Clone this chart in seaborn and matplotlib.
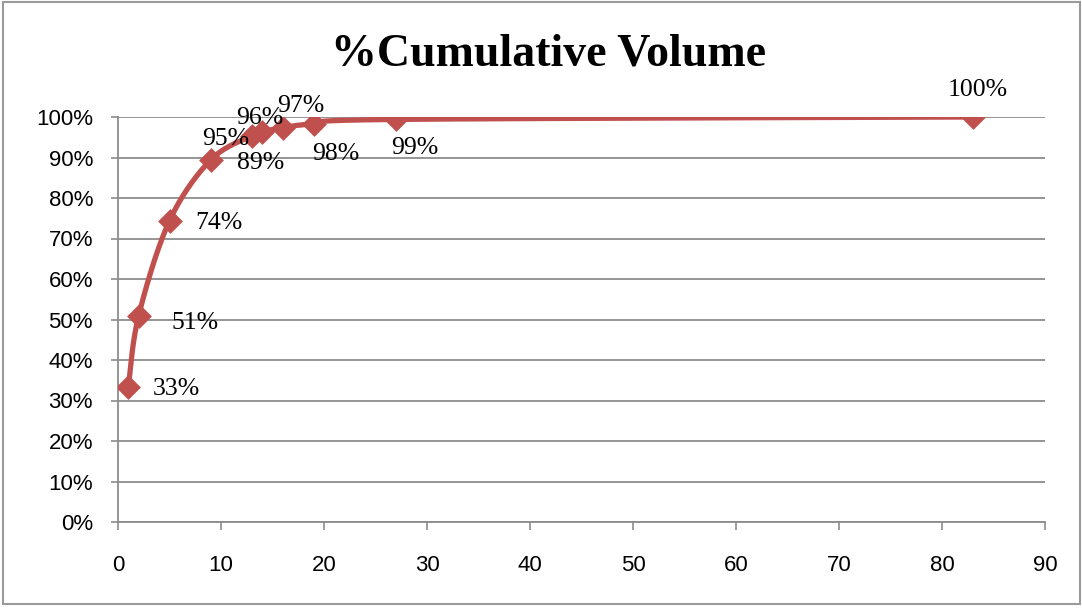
import numpy as np
import pandas as pd
import matplotlib
matplotlib.use("Agg")
import matplotlib.pyplot as plt
from matplotlib.patches import Rectangle
from matplotlib.ticker import FuncFormatter, MultipleLocator
import seaborn as sns

# Cumulative share of volume by item rank
rank = [1, 2, 5, 9, 13, 14, 16, 19, 27, 83]
cum_pct = [33.3, 50.9, 74.4, 89.4, 95.4, 96.3, 97.4, 98.3, 99.4, 100.0]
# label offsets (pixels) from each marker
label_dx = [48, 56, 49, 50, -26, -2, 18, 22, 19, 5]
label_dy = [-2, -7, -2, -3, -3, 14, 22, -30, -29, 27]

title = "%Cumulative Volume"
line_color = "#C0504D"
grid_color = "#8C8C8C"


def catmull_rom(xs, ys, n=30, tension=0.5):
    """Smooth curve through points (Excel-style smoothed line)."""
    xs = np.asarray(xs, float)
    ys = np.asarray(ys, float)
    px = np.concatenate([[xs[0]], xs, [xs[-1]]])
    py = np.concatenate([[ys[0]], ys, [ys[-1]]])
    out_x, out_y = [], []
    for i in range(1, len(px) - 2):
        p0x, p1x, p2x, p3x = px[i - 1], px[i], px[i + 1], px[i + 2]
        p0y, p1y, p2y, p3y = py[i - 1], py[i], py[i + 1], py[i + 2]
        c1x = p1x + (p2x - p0x) * tension / 3
        c1y = p1y + (p2y - p0y) * tension / 3
        c2x = p2x - (p3x - p1x) * tension / 3
        c2y = p2y - (p3y - p1y) * tension / 3
        t = np.linspace(0, 1, n)
        bx = (1 - t) ** 3 * p1x + 3 * (1 - t) ** 2 * t * c1x + 3 * (1 - t) * t ** 2 * c2x + t ** 3 * p2x
        by = (1 - t) ** 3 * p1y + 3 * (1 - t) ** 2 * t * c1y + 3 * (1 - t) * t ** 2 * c2y + t ** 3 * p2y
        out_x.append(bx)
        out_y.append(by)
    return np.concatenate(out_x), np.concatenate(out_y)


sns.set_theme(style="white")
plt.rcParams["font.family"] = ["Liberation Serif", "DejaVu Serif"]
plt.rcParams["text.color"] = "black"

fig = plt.figure(figsize=(10.82, 6.08), dpi=100)
ax = fig.add_axes([118 / 1082, 1 - 522 / 608, (1045 - 118) / 1082, (522 - 117) / 608])

df = pd.DataFrame({"rank": rank, "pct": cum_pct})
sx, sy = catmull_rom(df["rank"], df["pct"])
curve = pd.DataFrame({"x": sx, "y": sy})
sns.lineplot(data=curve, x="x", y="y", ax=ax, color=line_color, lw=3.8,
             sort=False, estimator=None, zorder=3)
sns.scatterplot(data=df, x="rank", y="pct", ax=ax, marker="D", s=160,
                color=line_color, edgecolor=line_color, linewidth=0, zorder=4)

for x, y, dx, dy in zip(rank, cum_pct, label_dx, label_dy):
    ax.annotate(f"{y:.0f}%", (x, y), xytext=(dx, dy), textcoords="offset pixels",
                ha="center", va="center", fontsize=18.5, color="black",
                family=["Liberation Serif", "DejaVu Serif"], zorder=5)

ax.set_xlim(0, 90)
ax.set_ylim(0, 100)
ax.xaxis.set_major_locator(MultipleLocator(10))
ax.yaxis.set_major_locator(MultipleLocator(10))
ax.yaxis.set_major_formatter(FuncFormatter(lambda v, p: f"{v:.0f}%"))
ax.set_xlabel("")
ax.set_ylabel("")

ax.grid(axis="y", color=grid_color, lw=1.3)
ax.grid(axis="x", visible=False)
for side in ["top", "right"]:
    ax.spines[side].set_visible(False)
for side in ["left", "bottom"]:
    ax.spines[side].set_color(grid_color)
    ax.spines[side].set_linewidth(1.3)

tick_font = ["Liberation Sans Narrow", "Liberation Sans", "DejaVu Sans"]
ax.tick_params(axis="x", direction="out", length=6, width=1.2, color=grid_color,
               pad=18, labelsize=16, bottom=True, labelcolor="black")
ax.tick_params(axis="y", direction="out", length=5, width=1.2, color=grid_color,
               pad=13, labelsize=16, left=True, labelcolor="black")
for lab in ax.get_xticklabels() + ax.get_yticklabels():
    lab.set_family(tick_font)

fig.text(549 / 1082, 1 - 55 / 608, title, ha="center", va="center",
         fontsize=33, fontweight="bold", color="black",
         family=["Liberation Serif", "DejaVu Serif"])

# chart-area border
fig.add_artist(Rectangle((3 / 1082, 4 / 608), 1 - 5 / 1082, 1 - 6 / 608,
                         transform=fig.transFigure, fill=False,
                         edgecolor="#9A9A9A", lw=1.5))

fig.savefig("out.png", dpi=100)
